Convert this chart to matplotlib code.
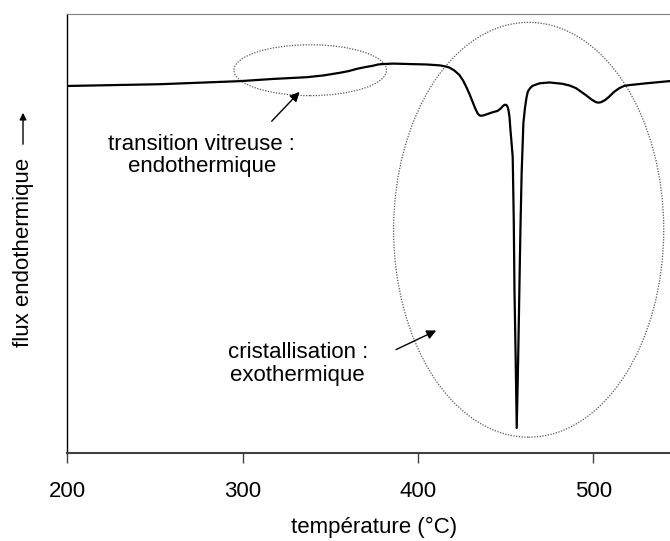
import matplotlib.pyplot as plt
from matplotlib.patches import Ellipse
import matplotlib
matplotlib.rcParams['font.family'] = ['Liberation Sans', 'DejaVu Sans']
matplotlib.rcParams['font.size'] = 16

# DSC trace (temperature in degC, heat flux in arbitrary units, endo up)
temperature = [200, 252.7, 298.3, 317.1, 336.5, 346.0, 355.3, 360.5, 365.0, 369.8,
               374.1, 377.2, 379.8, 386.0, 395.2, 405.0, 412.3, 415.2, 417.9, 420.8,
               423.6, 425.6, 427.5, 429.4, 431.1, 432.6, 433.9, 435.0, 436.0, 437.4,
               438.9, 442.5, 445.3, 447.0, 448.1, 449.3, 450.3, 451.0, 451.6, 452.2,
               452.7, 453.2, 454.0, 454.6, 455.0, 455.7, 456.3, 457.1, 457.8, 458.4,
               459.1, 460.1, 461.0, 461.8, 462.6, 463.9, 465.2, 469.2, 474.9, 482.3,
               486.5, 490.1, 495.8, 499.0, 501.5, 503.0, 504.4, 506.8, 509.1, 512.0,
               514.8, 517.5, 520.5, 530.0, 543.3, 550.0]
flux = [83.7, 84.1, 84.8, 85.3, 85.7, 86.1, 86.7, 87.1, 87.6, 88.0,
        88.3, 88.6, 88.7, 88.8, 88.7, 88.6, 88.4, 88.2, 87.9, 87.2,
        86.2, 85.0, 83.5, 81.8, 80.1, 78.6, 77.5, 77.0, 76.9, 77.0,
        77.2, 77.7, 78.0, 78.5, 79.0, 79.4, 79.4, 79.0, 78.2, 76.5,
        73.7, 71.4, 67.5, 53.1, 37.2, 21.2, 5.7, 21.2, 37.2, 50.9,
        63.9, 75.3, 78.7, 80.9, 82.4, 83.2, 83.7, 84.3, 84.5, 84.2,
        83.8, 83.2, 81.6, 80.6, 80.0, 79.9, 80.0, 80.5, 81.3, 82.4,
        83.2, 83.7, 83.9, 84.3, 84.8, 84.9]

# highlighted regions: (centre x, centre y, width, height)
glass_zone = (338.5, 87.3, 87.0, 11.6)
cryst_zone = (463.1, 50.9, 154.1, 94.6)

fig = plt.figure(figsize=(6.7, 5.41), dpi=100)
ax = fig.add_axes([0.1007, 0.1627, 0.9157, 0.8105])

ax.plot(temperature, flux, color='black', lw=1.6, solid_joinstyle='round')

for cx, cy, w, h in (glass_zone, cryst_zone):
    ax.add_patch(Ellipse((cx, cy), w, h, fill=False, edgecolor='#555555',
                         lw=0.9, linestyle=(0, (1, 1.2))))

ax.annotate('', xy=(333.5, 82.8), xytext=(315.4, 75.2),
            arrowprops=dict(arrowstyle='-|>', color='black', lw=1, mutation_scale=14))
ax.text(276.6, 67.8, 'transition vitreuse :\nendothermique', ha='center', va='center',
        linespacing=1.1)

ax.annotate('', xy=(411.8, 28.2), xytext=(386.0, 23.3),
            arrowprops=dict(arrowstyle='-|>', color='black', lw=1, mutation_scale=14))
ax.text(331.3, 20.3, 'cristallisation :\nexothermique', ha='center', va='center',
        linespacing=1.1)

ax.set_xlim(200, 550)
ax.set_ylim(0, 100)
ax.set_xticks([200, 300, 400, 500])
ax.set_yticks([])
ax.tick_params(axis='x', direction='out', length=7, width=1, color='#404040', pad=13,
               labelsize=16)
ax.set_xlabel('température (°C)', fontsize=16, labelpad=11)

ax.spines['right'].set_visible(False)
ax.spines['top'].set_color('#808080')
ax.spines['top'].set_linewidth(0.8)
ax.spines['left'].set_color('black')
ax.spines['left'].set_linewidth(1.0)
ax.spines['bottom'].set_color('#404040')
ax.spines['bottom'].set_linewidth(1.5)

# y label with an upward arrow (endothermic direction)
fig.text(24 / 670, 1 - 252.5 / 541, 'flux endothermique', rotation=90,
         ha='center', va='center', fontsize=16)
fig.add_artist(matplotlib.patches.FancyArrowPatch(
    (23 / 670, 1 - 147 / 541), (23 / 670, 1 - 110 / 541),
    transform=fig.transFigure, arrowstyle='-|>', color='black', lw=1,
    mutation_scale=10))

plt.savefig('out.png', dpi=100)
plt.close()
